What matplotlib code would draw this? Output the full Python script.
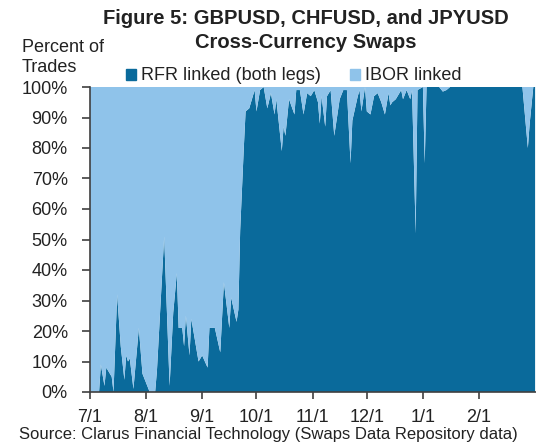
import numpy as np
import pandas as pd
import matplotlib
matplotlib.use("Agg")
import matplotlib.pyplot as plt
from matplotlib.patches import Patch

plt.rcParams['font.family'] = ['Liberation Sans', 'DejaVu Sans']

# share of trades, RFR linked on both legs (in %)
dates = ["2021-07-01", "2021-07-06", "2021-07-07", "2021-07-09", "2021-07-10",
         "2021-07-13", "2021-07-14", "2021-07-16", "2021-07-18", "2021-07-20",
         "2021-07-21", "2021-07-22", "2021-07-23", "2021-07-25", "2021-07-28",
         "2021-07-30", "2021-08-01", "2021-08-03", "2021-08-06", "2021-08-07",
         "2021-08-11", "2021-08-14", "2021-08-16", "2021-08-18", "2021-08-19",
         "2021-08-21", "2021-08-22", "2021-08-23", "2021-08-25", "2021-08-26",
         "2021-08-30", "2021-09-01", "2021-09-04", "2021-09-05", "2021-09-08",
         "2021-09-11", "2021-09-13", "2021-09-16", "2021-09-17", "2021-09-20",
         "2021-09-21", "2021-09-22", "2021-09-24", "2021-09-25", "2021-09-27",
         "2021-09-29", "2021-09-30", "2021-10-01", "2021-10-03", "2021-10-05",
         "2021-10-07", "2021-10-09", "2021-10-11", "2021-10-12", "2021-10-15",
         "2021-10-16", "2021-10-17", "2021-10-19", "2021-10-22", "2021-10-23",
         "2021-10-25", "2021-10-27", "2021-10-29", "2021-10-31", "2021-11-02",
         "2021-11-04", "2021-11-05", "2021-11-06", "2021-11-08", "2021-11-09",
         "2021-11-11", "2021-11-13", "2021-11-15", "2021-11-16", "2021-11-18",
         "2021-11-20", "2021-11-22", "2021-11-23", "2021-11-26", "2021-11-27",
         "2021-11-28", "2021-11-30", "2021-12-01", "2021-12-03", "2021-12-05",
         "2021-12-07", "2021-12-09", "2021-12-11", "2021-12-13", "2021-12-14",
         "2021-12-15", "2021-12-17", "2021-12-19", "2021-12-20", "2021-12-21",
         "2021-12-23", "2021-12-25", "2021-12-26", "2021-12-28", "2021-12-29",
         "2022-01-01", "2022-01-02", "2022-01-03", "2022-01-10", "2022-01-12",
         "2022-01-14", "2022-01-16", "2022-02-25", "2022-02-28", "2022-03-01",
         "2022-03-03", "2022-03-04"]
rfr = [0, 0, 9, 2, 8,
       5, 0, 32, 15, 4,
       12, 10, 11, 1, 21,
       6, 3, 0, 0, 7,
       51, 2, 26, 39, 21,
       21, 15, 25, 12, 24,
       10, 12, 8, 21, 21,
       13, 36, 21, 31, 23,
       27, 53, 80, 92, 93,
       97, 99, 92, 99, 100,
       93, 98, 91, 96, 79,
       87, 84, 96, 91, 99,
       99, 91, 98, 97, 99,
       95, 88, 97, 87, 97,
       99, 84, 92, 96, 99,
       99, 75, 89, 97, 99,
       92, 100, 92, 91, 97,
       98, 95, 91, 98, 94,
       95, 96, 98, 99, 96,
       99, 96, 99, 52, 99,
       100, 75, 100, 100, 98.5,
       99, 100, 100, 80, 88,
       100, 100]

tick_dates = ["2021-07-01", "2021-08-01", "2021-09-01", "2021-10-01",
              "2021-11-01", "2021-12-01", "2022-01-01", "2022-02-01"]
tick_labels = ["7/1", "8/1", "9/1", "10/1", "11/1", "12/1", "1/1", "2/1"]

x = pd.to_datetime(dates)
rfr = np.array(rfr, dtype=float)
ibor = 100 - rfr

dark = "#0a6a9b"
light = "#8fc3ea"
grey = "#404040"

fig = plt.figure(figsize=(5.36, 4.45), dpi=100)
ax = fig.add_axes([90/536, 1-392/445, 446/536, 305/445])

ax.stackplot(x, rfr, ibor, colors=[dark, light], linewidth=0)

ax.set_ylim(0, 100)
ax.set_xlim(pd.Timestamp("2021-07-01"), pd.Timestamp("2022-03-04 12:00"))
ax.set_yticks(np.arange(0, 101, 10))
ax.set_yticklabels([f"{v}%" for v in range(0, 101, 10)])
ax.set_xticks(pd.to_datetime(tick_dates))
ax.set_xticklabels(tick_labels)

for s in ['top', 'right']:
    ax.spines[s].set_visible(False)
for s in ['left', 'bottom']:
    ax.spines[s].set_color(grey)
    ax.spines[s].set_linewidth(1.2)
ax.tick_params(axis='y', direction='out', length=6, width=1.2, color=grey,
               labelsize=13, labelcolor="#222222", pad=10)
ax.tick_params(axis='x', direction='out', length=5, width=1.2, color=grey,
               labelsize=13, labelcolor="#222222", pad=7)

fig.text(306/536, 1-18/445, "Figure 5: GBPUSD, CHFUSD, and JPYUSD",
         ha='center', va='center', fontsize=14.5, fontweight='bold', color="#222222")
fig.text(306/536, 1-43/445, "Cross-Currency Swaps",
         ha='center', va='center', fontsize=14.5, fontweight='bold', color="#222222")
fig.text(22/536, 1-47/445, "Percent of", ha='left', va='center', fontsize=13, color="#222222")
fig.text(22/536, 1-68/445, "Trades", ha='left', va='center', fontsize=13, color="#222222")
fig.text(268/536, 1-434/445, "Source: Clarus Financial Technology (Swaps Data Repository data)",
         ha='center', va='center', fontsize=12, color="#222222")

handles = [Patch(color=dark, label="RFR linked (both legs)"),
           Patch(color=light, label="IBOR linked")]
fig.legend(handles=handles, loc='center left', bbox_to_anchor=(126/536, 1-76/445),
           ncol=2, frameon=False, fontsize=13, handlelength=0.55, handleheight=0.55,
           handletextpad=0.3, columnspacing=1.6, borderpad=0, borderaxespad=0,
           labelcolor="#222222")

fig.savefig("out.png", dpi=100)
